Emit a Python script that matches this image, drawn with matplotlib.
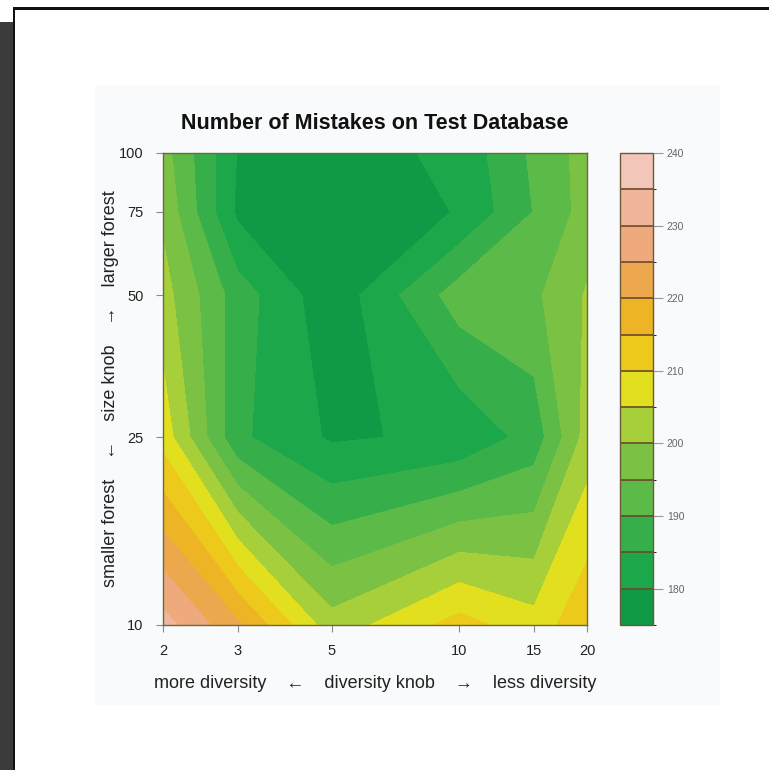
import numpy as np
import matplotlib
matplotlib.use("Agg")
import matplotlib.pyplot as plt
from matplotlib.colors import ListedColormap, BoundaryNorm
from matplotlib.patches import Rectangle

plt.rcParams['font.family'] = ['Liberation Sans', 'DejaVu Sans']

# diversity knob (x) and forest size knob (y)
diversity = [2, 3, 5, 10, 15, 20]
forest_size = [10, 25, 50, 75, 100]

# number of mistakes, one row per forest size
mistakes = np.array([
    [232, 221, 202.0, 212.0, 207.0, 214.0],   # 10
    [208, 186, 179.3, 181.0, 187.0, 202.0],   # 25
    [202, 187.5, 176.5, 192.5, 194.0, 200.5], # 50
    [199, 179, 176.0, 180.3, 190.2, 197.0],   # 75
    [197, 179.8, 177.0, 181.5, 191.0, 197.0], # 100
])

levels = list(range(175, 245, 5))
band_colors = ['#109A45', '#1CA74A', '#36AF4A', '#5BBA48', '#7BC244', '#A6CF3A',
               '#E2DF1E', '#ECC91B', '#EDB426', '#EDA84E', '#EEAA7C', '#EFB69C', '#F2C6B8']
cbar_ticks = [180, 190, 200, 210, 220, 230, 240]
x_ticks = [2, 3, 5, 10, 15, 20]
y_ticks = [10, 25, 50, 75, 100]

W, H = 769, 770
fig = plt.figure(figsize=(W / 100, H / 100), dpi=100)

# page frame with shadow
def frame_rect(x, y, w, h, color):
    fig.patches.append(Rectangle((x / W, 1 - (y + h) / H), w / W, h / H,
                                 transform=fig.transFigure, facecolor=color,
                                 edgecolor='none', zorder=-10))

frame_rect(0, 22, 14, H - 22, '#3b3b3b')
frame_rect(13, 7, W, 3, '#111111')
frame_rect(13, 7, 2, H, '#111111')
frame_rect(95, 85, 625, 620, '#f9fafb')

ax = fig.add_axes([163 / W, (H - 625) / H, 424 / W, 472 / H])
cax = fig.add_axes([620 / W, (H - 625) / H, 33 / W, 472 / H])

cmap = ListedColormap(band_colors)
norm = BoundaryNorm(levels, cmap.N)
lx = np.log10(diversity)
ly = np.log10(forest_size)
cs = ax.contourf(lx, ly, mistakes, levels=levels, cmap=cmap, norm=norm)

ax.set_xlim(lx[0], lx[-1])
ax.set_ylim(ly[0], ly[-1])
ax.set_xticks(np.log10(x_ticks))
ax.set_xticklabels([str(v) for v in x_ticks])
ax.set_yticks(np.log10(y_ticks))
ax.set_yticklabels([str(v) for v in y_ticks])
ax.tick_params(direction='out', length=5, color='#888888', labelsize=10.5,
               labelcolor='#222222')
ax.tick_params(axis='x', pad=9)
ax.tick_params(axis='y', pad=9)
for sp in ax.spines.values():
    sp.set_color('#6a6a40')
    sp.set_linewidth(1)

ax.set_title('Number of Mistakes on Test Database', fontsize=15.5, fontweight='bold',
             color='#111111', pad=17)
ax.set_xlabel('more diversity    \u2190    diversity knob    \u2192    less diversity',
              fontsize=13, color='#222222', labelpad=12)
ax.set_ylabel('smaller forest    \u2190    size knob    \u2192    larger forest',
              fontsize=13, color='#222222', labelpad=0)

cb = fig.colorbar(cs, cax=cax, ticks=cbar_ticks, drawedges=True)
cb.dividers.set_color('#6b4a2a')
cb.dividers.set_linewidth(1.2)
cb.outline.set_edgecolor('#6b5a3a')
cb.outline.set_linewidth(1)
cax.tick_params(direction='out', length=7, color='#999999', labelsize=7.5,
                labelcolor='#666666', pad=3)

fig.savefig('out.png', dpi=100)
